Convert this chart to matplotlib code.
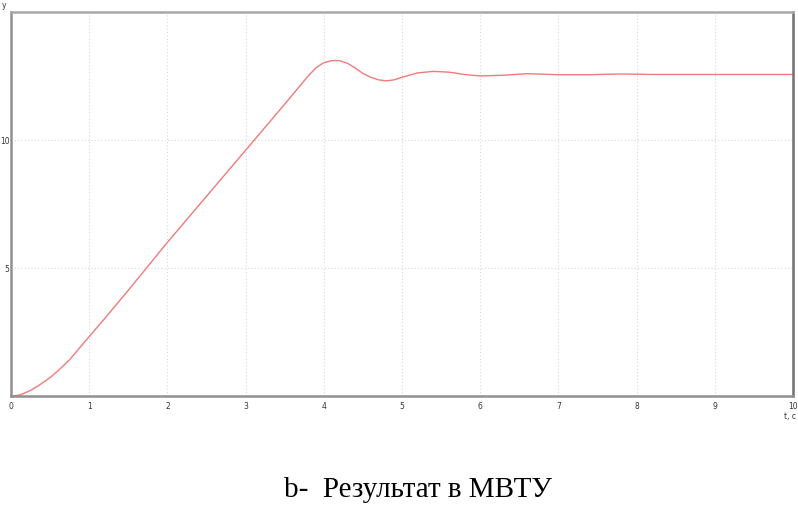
import matplotlib
matplotlib.use("Agg")
import matplotlib.pyplot as plt

t_vals = [0.0, 0.1, 0.15, 0.25, 0.35, 0.5, 0.6, 0.75, 0.9, 1.0, 1.2, 1.5, 2.0, 2.5, 3.0, 3.5, 3.8, 3.9,
          4.0, 4.1, 4.2, 4.3, 4.4, 4.5, 4.6, 4.7, 4.8, 4.9, 5.0, 5.2, 5.4, 5.6, 5.8, 6.0, 6.3, 6.6,
          7.0, 7.4, 7.8, 8.2, 9.0, 10.0]
y_vals = [0.0, 0.03, 0.08, 0.22, 0.4, 0.72, 0.98, 1.42, 1.96, 2.32, 3.03, 4.13, 6.0, 7.8, 9.6, 11.4, 12.5, 12.82,
          13.02, 13.1, 13.1, 13.0, 12.82, 12.6, 12.45, 12.35, 12.31, 12.35, 12.45, 12.62, 12.68, 12.65, 12.56,
          12.5, 12.53, 12.59, 12.55, 12.55, 12.58, 12.56, 12.56, 12.56]
x_ticks = [0, 1, 2, 3, 4, 5, 6, 7, 8, 9, 10]
y_ticks = [5, 10]
caption = "b-  Результат в МВТУ"

W, H = 798, 505
fig = plt.figure(figsize=(W / 100, H / 100), dpi=100)
ax = fig.add_axes([11 / W, (H - 396) / H, (793 - 11) / W, (396 - 12) / H])

ax.plot(t_vals, y_vals, color="#f07a7a", lw=1.0)
ax.set_xlim(0, 10)
ax.set_ylim(0, 15)
ax.set_xticks(x_ticks)
ax.set_yticks(y_ticks)
ax.set_xticklabels([str(v) for v in x_ticks], fontsize=5.5, family="DejaVu Sans", color="#333333")
ax.set_yticklabels([str(v) for v in y_ticks], fontsize=5.5, family="DejaVu Sans", color="#333333")
ax.tick_params(axis="x", length=0, pad=4)
ax.tick_params(axis="y", length=0, pad=1)
ax.grid(True, color="#d8d8d8", linestyle=(0, (1, 2)), lw=0.8)
for side, sp in ax.spines.items():
    sp.set_color("#909090")
    sp.set_linewidth(1.8)
ax.spines["right"].set_color("#707070")
ax.spines["top"].set_color("#a8a8a8")

fig.text(2 / W, 1 - 6 / H, "y", fontsize=5.5, family="DejaVu Sans", color="#333333", va="center")
fig.text(796 / W, 1 - 416 / H, "t, c", fontsize=5.5, family="DejaVu Sans", color="#333333",
         va="center", ha="right")
fig.text(418 / W, 1 - 490 / H, caption, fontsize=21, family="Liberation Serif",
         color="black", ha="center", va="center")

fig.savefig("out.png", dpi=100, facecolor="white")
